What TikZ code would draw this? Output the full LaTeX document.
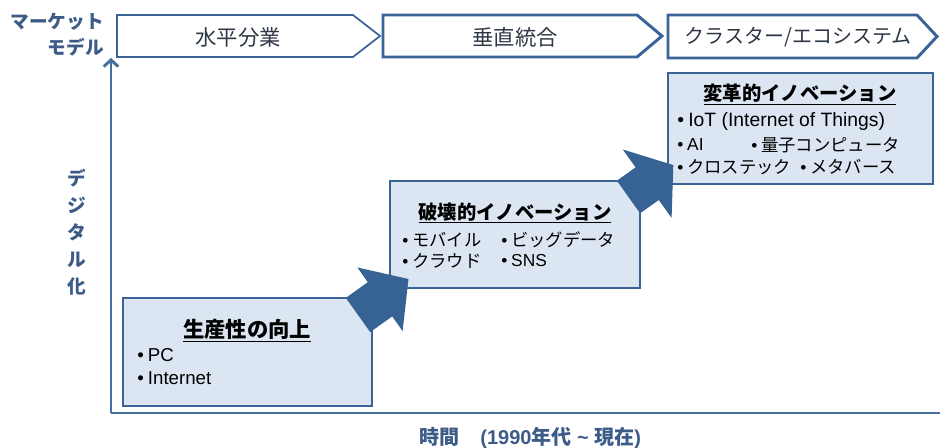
\documentclass[tikz,border=0pt]{standalone}
\usepackage{fontspec}
\setmainfont{Noto Sans CJK JP}
\newfontfamily\lat{Liberation Sans}
\usetikzlibrary{fit,arrows.meta}
\definecolor{axisblue}{RGB}{68,112,160}
\definecolor{edgeblue}{RGB}{58,100,150}
\definecolor{arrowblue}{RGB}{54,98,148}
\definecolor{boxfill}{RGB}{220,230,242}
\definecolor{labelblue}{RGB}{60,92,135}
\definecolor{chevtextc}{RGB}{45,55,70}
\newcommand{\bulletmark}{{\lat •}\ }
\begin{document}
\begin{tikzpicture}[x=0.75pt,y=-0.75pt,
  chev/.style={draw=edgeblue, line width=2.2pt, fill=white, line join=miter},
  chevthin/.style={chev, line width=1.3pt},
  chevlabel/.style={text=chevtextc, font=\fontsize{16}{18}\selectfont, inner sep=0pt},
  card/.style={draw=edgeblue, line width=2.2pt, fill=boxfill, inner sep=0pt},
  cardtitle/.style={font=\bfseries\fontsize{14.5}{17}\selectfont, inner sep=0pt},
  item/.style={anchor=west, inner sep=0pt, font=\fontsize{13}{16}\selectfont},
  blockarrow/.style={fill=arrowblue, draw=none},
  axis/.style={draw=axisblue, line width=2.2pt},
  axislabel/.style={text=labelblue, font=\bfseries\fontsize{14}{19.5}\selectfont, inner sep=0pt}
]
\useasboundingbox (0,0) rectangle (940,448);

% axes
\coordinate (origin) at (111,413);
\coordinate (ytop) at (111,58);
\coordinate (xend) at (940,413);
\draw[axis, -{Straight Barb[length=5pt,width=11pt]}] (origin) -- (ytop);
\draw[axis] (origin) -- (xend);

% chevrons (market models)
\draw[chevthin] (117,15) -- (353,15) -- (380,36) -- (353,57) -- (117,57) -- cycle;
\draw[chev] (383,15) -- (637,15) -- (662,36) -- (637,57) -- (383,57) -- cycle;
\draw[chev] (668,15) -- (917,15) -- (937,36.5) -- (917,58) -- (668,58) -- cycle;
\node[chevlabel] (c1) at (238,37) {水平分業};
\node[chevlabel] (c2) at (515,37) {垂直統合};
\node[chevlabel, font=\fontsize{15}{18}\selectfont] (c3) at (798,37) {クラスター/エコシステム};

% axis labels
\node[axislabel, anchor=east, align=right] (mm) at (104,35) {マーケット\\モデル};
\node[axislabel, align=center, font=\bfseries\fontsize{14}{20.25}\selectfont] (dg) at (77,232) {デ\\ジ\\タ\\ル\\化};
\node[axislabel, font=\bfseries\fontsize{15}{18}\selectfont] (tm) at (530,438) {時間\hspace{16pt}{\lat (1990}年代{\lat\ \textasciitilde\ }現在{\lat )}};

% cards
\node[card, fit={(123,298)(372,406)}] (b1) {};
\node[card, fit={(390,181)(640,288)}] (b2) {};
\node[card, fit={(668,73)(933,184)}] (b3) {};

% card 1
\node[cardtitle, font=\bfseries\fontsize{16}{19}\selectfont] (t1) at (247,331) {\underline{生産性の向上}};
\node[item, font=\fontsize{14}{16}\selectfont] (i11) at (137,355) {\bulletmark{\lat PC}};
\node[item, font=\fontsize{14}{16}\selectfont] (i12) at (137,378) {\bulletmark{\lat Internet}};

% card 2
\node[cardtitle] (t2) at (515,213) {\underline{破壊的イノベーション}};
\node[item] (i21) at (402,240) {\bulletmark モバイル};
\node[item] (i22) at (501,240) {\bulletmark ビッグデータ};
\node[item] (i23) at (402,261) {\bulletmark クラウド};
\node[item] (i24) at (501,261) {\bulletmark{\lat SNS}};

% card 3
\node[cardtitle] (t3) at (800,95) {\underline{変革的イノベーション}};
\node[item, font=\fontsize{14.5}{16}\selectfont] (i31) at (677,122) {\bulletmark{\lat IoT (Internet of Things)}};
\node[item] (i32) at (677,145) {\bulletmark{\lat AI}};
\node[item] (i33) at (751,145) {\bulletmark 量子コンピュータ};
\node[item] (i34) at (677,167) {\bulletmark クロステック};
\node[item] (i35) at (800,167) {\bulletmark メタバース};

% block arrows
\fill[blockarrow] (345.8,297.9) -- (367.8,282.2) -- (357.4,267.5) -- (408.5,279.0)
  -- (402.6,331.1) -- (392.2,316.4) -- (370.2,332.1) -- cycle;
\fill[blockarrow] (616.9,180.7) -- (635.6,167.4) -- (622.8,149.5) -- (673.3,165.1)
  -- (671.6,217.9) -- (658.8,200.0) -- (640.1,213.3) -- cycle;
\end{tikzpicture}
\end{document}
